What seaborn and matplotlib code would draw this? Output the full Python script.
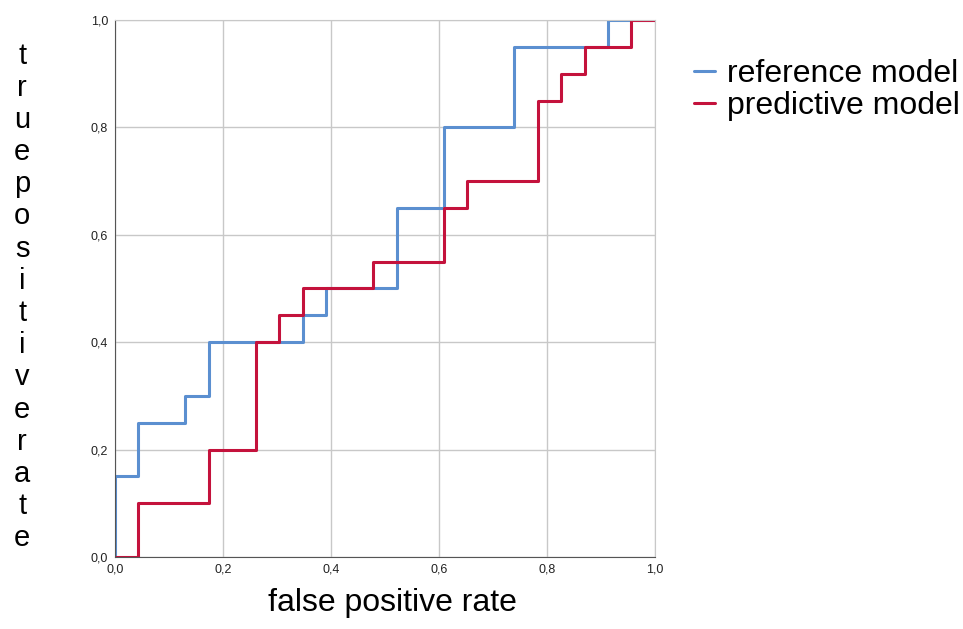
import numpy as np
import pandas as pd
import matplotlib
matplotlib.use("Agg")
import matplotlib.pyplot as plt
import seaborn as sns
from matplotlib.ticker import FuncFormatter, MultipleLocator

# ROC-Kurven: Schwellen als Zaehler (23 negative, 20 positive Faelle)
n_neg = 23
n_pos = 20
fp_ref = [0, 0, 1, 3, 4, 8, 9, 12, 14, 17, 21, 23]
tp_ref = [0, 3, 5, 6, 8, 9, 10, 13, 16, 19, 20, 20]
fp_pred = [0, 1, 4, 6, 7, 8, 11, 14, 15, 18, 19, 20, 22, 23]
tp_pred = [0, 2, 4, 8, 9, 10, 11, 13, 14, 17, 18, 19, 20, 20]
labels = ["reference model", "predictive model"]

df = pd.concat([
    pd.DataFrame({"fpr": np.array(fp_ref) / n_neg, "tpr": np.array(tp_ref) / n_pos, "model": labels[0]}),
    pd.DataFrame({"fpr": np.array(fp_pred) / n_neg, "tpr": np.array(tp_pred) / n_pos, "model": labels[1]}),
])

sns.set_style("white")
plt.rcParams["font.family"] = ["Liberation Sans", "DejaVu Sans"]
plt.rcParams["text.color"] = "black"

fig = plt.figure(figsize=(9.63, 6.29), dpi=100)
ax = fig.add_axes([0.1194, 0.1145, 0.5607, 0.8537])

sns.lineplot(data=df, x="fpr", y="tpr", hue="model", estimator=None, sort=False,
             drawstyle="steps-post", palette={labels[0]: "#5b8fd0", labels[1]: "#c4123c"},
             linewidth=2.2, ax=ax, legend=True)

ax.set_xlim(0, 1)
ax.set_ylim(0, 1)
ax.xaxis.set_major_locator(MultipleLocator(0.2))
ax.yaxis.set_major_locator(MultipleLocator(0.2))
fmt = FuncFormatter(lambda v, p: f"{v:.1f}".replace(".", ","))
ax.xaxis.set_major_formatter(fmt)
ax.yaxis.set_major_formatter(fmt)
ax.grid(True, color="#c8c8c8", linewidth=1)
ax.set_axisbelow(True)
for s in ["top", "right"]:
    ax.spines[s].set_color("#c8c8c8")
for s in ["left", "bottom"]:
    ax.spines[s].set_color("#555555")
ax.tick_params(axis="both", labelsize=9, length=0, pad=5, colors="#222222")
ax.set_xlabel("")
ax.set_ylabel("")

# Achsentitel wie im SPSS-Original
fig.text(0.408, 0.018, "false positive rate", ha="center", va="bottom", fontsize=23)
fig.text(0.023, 0.528, "\n".join("truepositiverate"), ha="center", va="center",
         fontsize=21, linespacing=1.19)

leg = ax.legend(loc="upper left", bbox_to_anchor=(0.7207, 0.906), bbox_transform=fig.transFigure,
                frameon=False, fontsize=23, handlelength=0.65, handletextpad=0.38,
                labelspacing=0.05, borderaxespad=0, borderpad=0)

fig.savefig("out.png", dpi=100)
